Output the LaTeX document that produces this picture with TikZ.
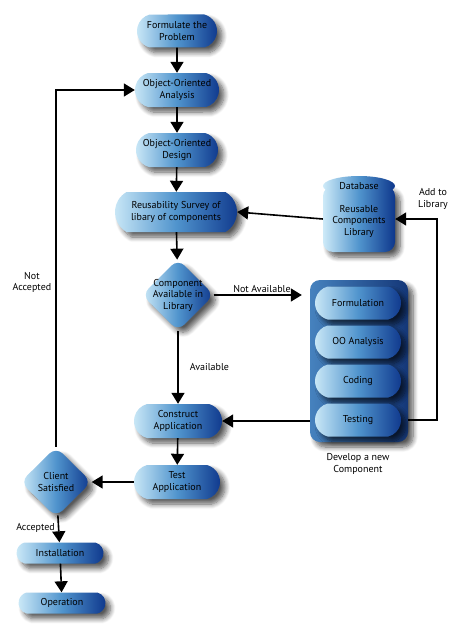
\documentclass[tikz,border=0pt]{standalone}
\usepackage{fontspec}
\setmainfont{PT Sans}
\usetikzlibrary{shapes.geometric,shapes.misc,arrows.meta,shadows.blur}
\definecolor{pl}{RGB}{205,234,248}
\definecolor{pm}{RGB}{80,148,205}
\definecolor{pd}{RGB}{14,55,140}
\definecolor{gl}{RGB}{70,130,190}
\definecolor{gd}{RGB}{20,55,120}
\tikzset{
  x=1pt, y=-1pt,
  every node/.style={font=\fontsize{10}{11.5}\selectfont, align=center, text=black},
  shad/.style={blur shadow={shadow xshift=5pt, shadow yshift=-5pt, shadow blur steps=8, shadow opacity=65, shadow blur radius=5pt}},
  pill/.style={rounded rectangle, rounded rectangle arc length=150, left color=pl, right color=pd, middle color=pm, shad, inner sep=1pt},
  dia/.style={diamond, aspect=1, rounded corners=9pt, left color=pl, right color=pd, middle color=pm, shad, inner sep=0pt, minimum width=72pt, minimum height=72pt},
  groupbox/.style={rectangle, rounded corners=10pt, left color=gl, right color=gd, shad, minimum width=98pt, minimum height=162pt},
  arr/.style={line width=1.6pt, -{Triangle[length=11pt,width=13pt]}},
  lbl/.style={inner sep=1pt},
}
\begin{document}
\begin{tikzpicture}
\useasboundingbox (0,0) rectangle (467,642);
% main column
\node[pill, minimum width=82pt, minimum height=33pt] (form) at (177,31) {Formulate the\\Problem};
\node[pill, minimum width=86pt, minimum height=34pt] (ooa) at (177,90) {Object-Oriented\\Analysis};
\node[pill, minimum width=84pt, minimum height=34pt] (ood) at (177,150) {Object-Oriented\\Design};
\node[pill, minimum width=124pt, minimum height=40pt, rounded rectangle arc length=120] (reuse) at (176,212) {Reusability Survey of\\libary of components};
\node[dia, label={[align=center]center:{Component\\Available in\\Library}}] (avail) at (178,295) {};
\node[pill, minimum width=90pt, minimum height=34pt] (constr) at (178,421) {Construct\\Application};
\node[pill, minimum width=88pt, minimum height=34pt] (testapp) at (177,482) {Test\\Application};
\node[dia, minimum width=71pt, minimum height=70pt, label={[align=center]center:{Client\\Satisfied}}] (client) at (56,482) {};
\node[pill, minimum width=89pt, minimum height=21pt] (install) at (60,553) {Installation};
\node[pill, minimum width=89pt, minimum height=21pt] (oper) at (62,603) {Operation};
% library cylinder
\node[rectangle, left color=pl, right color=pd, middle color=pm, shad, minimum width=72pt, minimum height=66pt,
  rounded corners=10pt, text depth=0pt] (lib) at (359,219) {\\[-2pt]Reusable\\Components\\Library};
\node[ellipse, left color=pl, right color=pd, middle color=pm, minimum width=72pt, minimum height=20pt, inner sep=0pt] (dbtop) at (359,186) {Database};
% develop group
\node[groupbox] (group) at (359,361) {};
\node[pill, minimum width=88pt, minimum height=33pt] (formul) at (358,303) {Formulation};
\node[pill, minimum width=88pt, minimum height=33pt] (ooan) at (358,342) {OO Analysis};
\node[pill, minimum width=88pt, minimum height=33pt] (coding) at (358,381) {Coding};
\node[pill, minimum width=88pt, minimum height=33pt] (testing) at (358,420) {Testing};
\node[lbl] (devcap) at (358,464) {Develop a new\\Component};
% connectors
\draw[arr] (form) -- (ooa);
\draw[arr] (ooa) -- (ood);
\draw[arr] (ood) -- (reuse);
\draw[arr] (reuse) -- (avail);
\draw[arr, shorten >=8pt] (avail.east) -- (group.west |- avail.east) node[lbl, midway, above=1pt] {Not Available};
\draw[arr] (avail) -- (constr) node[lbl, midway, right=10pt] {Available};
\draw[arr] (group.west |- constr.east) -- (constr.east);
\draw[arr] (constr) -- (testapp);
\draw[arr] (testapp) -- (client);
\draw[arr] (client) -- (install) node[lbl, pos=0.45, left=2pt] {Accepted};
\draw[arr] (install) -- (oper);
\draw[arr] (client.north) |- (ooa.west) node[lbl, pos=0.23, left=3pt] {Not\\Accepted};
\draw[arr] (lib.west) -- (reuse.east);
\coordinate (turn) at (437,420);
\draw[arr] (group.east |- testing.east) -- (turn) |- (lib.east) node[lbl, pos=0.62, above=8pt, xshift=6pt] {Add to\\Library};
\end{tikzpicture}
\end{document}
